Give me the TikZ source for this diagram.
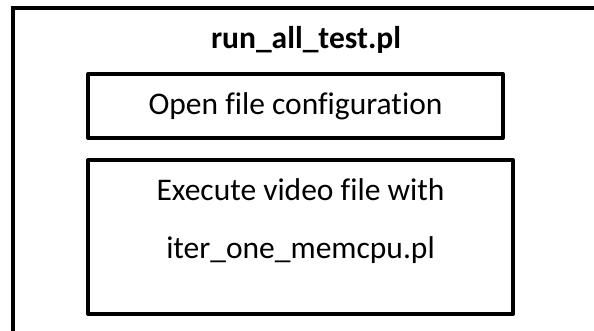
\documentclass[tikz,border=0pt]{standalone}
\usepackage{fontspec}
\setmainfont{Carlito}[Ligatures={NoCommon}, RawFeature={-liga;-dlig;-clig}]
\begin{document}
\begin{tikzpicture}[x=1pt,y=-1pt,
  boxline/.style={draw=black, line width=4pt, line join=round},
  frame/.style={draw=black, line width=4pt},
  txt/.style={anchor=base, inner sep=0pt, font=\fontsize{31.5}{36}\selectfont},
  title/.style={anchor=base, inner sep=0pt, font=\fontsize{31.5}{36}\selectfont\bfseries}]
\useasboundingbox (0,0) rectangle (594,330);
\clip (0,0) rectangle (594,330);
\fill[white] (0,0) rectangle (594,330);
% outer frame (cropped at right and bottom)
\node[frame, minimum width=600pt, minimum height=340pt, anchor=north west, inner sep=0pt] (outer) at (10.5,5.8) {};
% title
\node[title] (ttl) at (306,48) {run\_all\_test.pl};
% box 1
\node[boxline, minimum width=415pt, minimum height=64pt, anchor=north west, inner sep=0pt] (b1) at (86,72) {};
\node[txt] (t1) at (b1.center |- 0,114) {Open file configuration};
% box 2
\node[boxline, minimum width=425pt, minimum height=154pt, anchor=north west, inner sep=0pt] (b2) at (86,158) {};
\node[txt] (t2a) at (b2.center |- 0,200) {Execute video file with};
\node[txt] (t2b) at (b2.center |- 0,258) {iter\_one\_memcpu.pl};
\end{tikzpicture}
\end{document}
